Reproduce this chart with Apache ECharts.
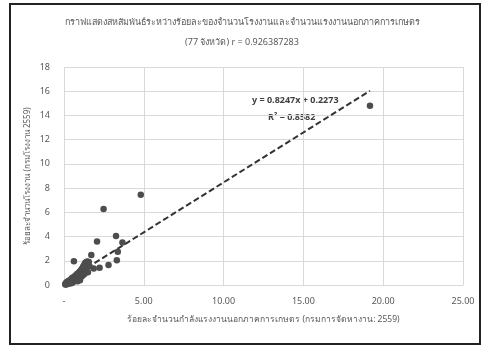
<!DOCTYPE html>
<html>
<head>
<meta charset="utf-8">
<script src="https://cdn.jsdelivr.net/npm/echarts@6/dist/echarts.min.js"></script>
<style>
  html, body { margin: 0; padding: 0; background: #fff; }
  #chart { width: 484px; height: 347px; }
</style>
</head>
<body>
<div id="chart"></div>
<script>
// Percent of non-agricultural labour (x) vs percent of factories (y), 77 provinces
const labourPct = [
  19.17, 4.81, 2.48, 3.26, 2.07, 3.66, 0.62, 1.71, 3.31, 2.79, 1.86, 2.23, 3.37, 1.52,
  0.08, 0.10, 0.12, 0.15, 0.18, 0.20, 0.22, 0.25, 0.27, 0.30, 0.32, 0.35, 0.38, 0.40,
  0.42, 0.45, 0.48, 0.50, 0.52, 0.55, 0.58, 0.60, 0.62, 0.65, 0.68, 0.70, 0.72, 0.75,
  0.78, 0.80, 0.82, 0.85, 0.88, 0.90, 0.92, 0.95, 0.98, 1.00, 1.02, 1.05, 1.08, 1.10,
  1.12, 1.15, 1.18, 1.20, 1.22, 1.25, 1.28, 1.30, 1.32, 1.35, 1.40, 1.45, 1.50, 1.55,
  1.60, 0.30, 0.55, 0.85, 1.00, 0.15, 0.45
];
const factoryPct = [
  14.80, 7.45, 6.27, 4.05, 3.60, 3.50, 1.97, 2.47, 2.05, 1.65, 1.37, 1.42, 2.74, 1.90,
  0.05, 0.12, 0.08, 0.20, 0.10, 0.25, 0.15, 0.30, 0.18, 0.22, 0.35, 0.28, 0.40, 0.25,
  0.45, 0.33, 0.50, 0.38, 0.60, 0.42, 0.55, 0.30, 0.65, 0.48, 0.72, 0.40, 0.58, 0.80,
  0.50, 0.68, 0.90, 0.62, 0.45, 1.00, 0.75, 0.55, 1.10, 0.85, 0.65, 1.20, 0.95, 0.70,
  1.35, 1.05, 0.80, 1.50, 1.15, 1.60, 0.90, 1.75, 1.25, 1.85, 1.40, 1.95, 1.05, 1.90,
  1.55, 0.10, 0.20, 0.30, 0.40, 0.05, 0.15
];

// Linear fit reported on the chart
const fitSlope = 0.8247;
const fitIntercept = 0.2273;
const fitR2 = 0.8582;
const fitRange = [0, 19.17];

const titleLines = [
  'กราฟแสดงสหสัมพันธ์ระหว่างร้อยละของจำนวนโรงงานและจำนวนแรงงานนอกภาคการเกษตร',
  '(77 จังหวัด) r = 0.926387283'
];
const xAxisTitle = 'ร้อยละจำนวนกำลังแรงงานนอกภาคการเกษตร (กรมการจัดหางาน: 2559)';
const yAxisTitle = 'ร้อยละจำนวนโรงงาน (กรมโรงงาน 2559)';

const points = labourPct.map((x, i) => [x, factoryPct[i]]);
const fitLine = fitRange.map(x => [x, fitSlope * x + fitIntercept]);

const textColor = '#595959';
const fontFam = '"Noto Sans", "DejaVu Sans", sans-serif';

const chart = echarts.init(document.getElementById('chart'), null, { renderer: 'canvas' });
chart.setOption({
  animation: false,
  backgroundColor: '#fff',
  title: {
    text: titleLines.join('\n'),
    left: 'center',
    top: 7,
    textStyle: { fontSize: 9, fontWeight: 'normal', color: textColor, fontFamily: fontFam, lineHeight: 20 }
  },
  grid: { left: 64, right: 21, top: 67, bottom: 62 },
  xAxis: {
    type: 'value', min: 0, max: 25, interval: 5,
    name: xAxisTitle, nameLocation: 'middle', nameGap: 30,
    nameTextStyle: { fontSize: 8.5, color: textColor, fontFamily: fontFam },
    axisLine: { show: true, lineStyle: { color: '#d9d9d9' } },
    axisTick: { show: false },
    axisLabel: { fontSize: 9, color: textColor, fontFamily: fontFam, margin: 12,
      formatter: v => v === 0 ? '-' : v.toFixed(2) },
    splitLine: { show: true, lineStyle: { color: '#d9d9d9', width: 1 } }
  },
  yAxis: {
    type: 'value', min: 0, max: 18, interval: 2,
    name: yAxisTitle, nameLocation: 'middle', nameGap: 32, nameRotate: 90,
    nameMoveOverlap: false,
    nameTextStyle: { fontSize: 8, color: textColor, fontFamily: fontFam },
    axisLine: { show: false },
    axisTick: { show: false },
    axisLabel: { fontSize: 9, color: textColor, fontFamily: fontFam, margin: 14 },
    splitLine: { show: true, lineStyle: { color: '#d9d9d9', width: 1 } }
  },
  series: [
    {
      type: 'scatter',
      data: points,
      symbolSize: 6.5,
      itemStyle: { color: '#4d4d4d', opacity: 1 },
      z: 3
    },
    {
      type: 'line',
      data: fitLine,
      showSymbol: false,
      lineStyle: { color: '#333', width: 2, type: [6, 3] },
      z: 2
    }
  ],
  graphic: [
    {
      type: 'rect',
      shape: { x: 10, y: 4, width: 470, height: 340 },
      style: { fill: 'none', stroke: '#222', lineWidth: 2 },
      silent: true
    },
    {
      type: 'text',
      left: 252, top: 96,
      style: { text: 'y = ' + fitSlope + 'x + ' + fitIntercept, fontSize: 9, fontWeight: 'bold',
        fill: '#404040', fontFamily: fontFam }
    },
    {
      type: 'text',
      left: 268, top: 113,
      style: { text: 'R² = ' + fitR2, fontSize: 9, fontWeight: 'bold',
        fill: '#404040', fontFamily: fontFam }
    }
  ]
});
</script>
</body>
</html>
